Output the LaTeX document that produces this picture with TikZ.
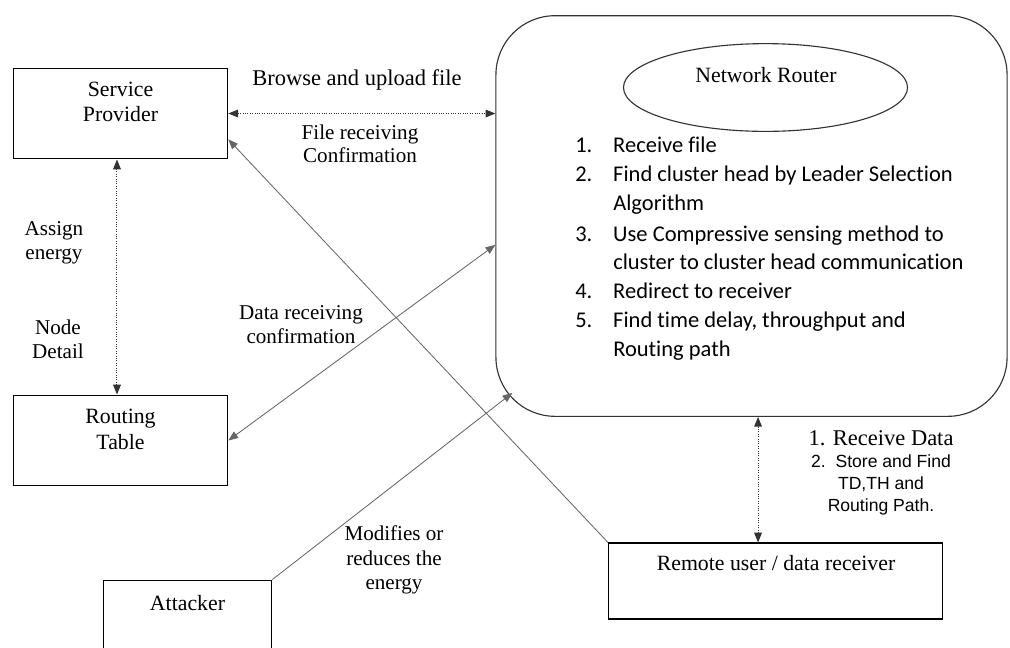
\documentclass[tikz,border=0pt]{standalone}
\usepackage{fontspec}
\setmainfont{Liberation Serif}
\newfontfamily\calibrifont[Ligatures=NoCommon]{Carlito}
\newfontfamily\arialfont{Liberation Sans}
\usetikzlibrary{positioning,arrows.meta,shapes.geometric}

\begin{document}
\begin{tikzpicture}[x=0.025cm, y=-0.025cm,
	box/.style={draw, line width=0.9pt, inner sep=0pt},
	boxtext/.style={align=center, font=\fontsize{15.5}{18}\selectfont},
	lbl/.style={align=center, font=\fontsize{15}{16.5}\selectfont},
	tip/.style={-{Triangle[length=7pt,width=5.5pt]}},
	bothtips/.style={{Triangle[length=7pt,width=5.5pt]}-{Triangle[length=7pt,width=5.5pt]}},
	dotlink/.style={draw=black!80, densely dotted, line width=0.7pt},
	solidlink/.style={draw=black!60, line width=0.6pt}]
	
	\clip (0,0) rectangle (1010,647);
	
	% Boxes
	\node[box, minimum width=152.4pt, minimum height=64.5pt] (provider) at (120.5,113.5) {};
	\node[boxtext] (providertxt) at (120.5,102) {Service\\Provider};
	
	\node[box, minimum width=152.4pt, minimum height=64.5pt] (routing) at (120.5,440.5) {};
	\node[boxtext] (routingtxt) at (120.5,429.5) {Routing\\Table};
	
	\node[box, minimum width=119.8pt, minimum height=70.9pt] (attacker) at (187.5,630) {};
	\node[boxtext] (attackertxt) at (187.5,603) {Attacker};
	
	\node[box, minimum width=237.4pt, minimum height=53.9pt] (remote) at (775.5,581) {};
	\node[boxtext] (remotetxt) at (776,563) {Remote user / data receiver};
	
	% Network router
	\node[draw=black!80, line width=0.8pt, rounded corners=42pt, minimum width=363.5pt, minimum height=284.9pt, inner sep=0pt] (router) at (751.5,216) {};
	\node[draw=black!80, line width=0.8pt, ellipse, minimum width=202pt, minimum height=62.4pt, inner sep=0pt] (routerhead) at (765.5,87.5) {};
	\node[boxtext] (routertxt) at (766,75) {Network Router};
	\node[anchor=north west, inner sep=0pt, font=\calibrifont\fontsize{16}{20.5}\selectfont] (steps) at (575,132) {%
		\begin{tabular}{@{}p{27pt}@{}l@{}}
			1. & Receive file\\
			2. & Find cluster head by Leader Selection\\
			   & Algorithm\\[1.5pt]
			3. & Use Compressive sensing method to\\
			   & cluster to cluster head communication\\
			4. & Redirect to receiver\\
			5. & Find time delay, throughput and\\
			   & Routing path
		\end{tabular}};
	
	% Connectors
	\draw[dotlink, bothtips] (provider.east) -- (provider.east -| router.west);
	\node[lbl, font=\fontsize{16}{17}\selectfont] (browsetxt) at (357,80) {Browse and upload file};
	\node[lbl] (filetxt) at (360,144) {File receiving\\Confirmation};
	
	\draw[dotlink, bothtips] ([xshift=-2.5pt]provider.south) -- ([xshift=-2.5pt]routing.north);
	\node[lbl, font=\fontsize{15}{17}\selectfont] (assigntxt) at (54,243) {Assign\\energy};
	\node[lbl, font=\fontsize{15}{17}\selectfont] (nodetxt) at (58,339) {Node\\Detail};
	
	\draw[solidlink, tip] (remote.north west) -- ([yshift=-18.4pt]provider.east);
	
	\draw[solidlink, bothtips] (routing.east) -- ([yshift=-20.5pt]router.west);
	\node[lbl, font=\fontsize{15}{17.5}\selectfont] (datatxt) at (301,324.5) {Data receiving\\confirmation};
	
	\draw[solidlink, tip] (attacker.north east) -- ([shift={(17,-24)}]router.south west);
	\node[lbl, font=\fontsize{15}{17.5}\selectfont] (attacktxt) at (394,560) {Modifies or\\reduces the\\energy};
	
	\draw[dotlink, bothtips] ([xshift=-12.4pt]remote.north) -- ([xshift=-12.4pt]remote.north |- router.south);
	\node[lbl, font=\fontsize{16}{15.6}\selectfont] (receivetxt) at (881,473) {1. Receive Data\\{\arialfont\fontsize{12.5}{15.6}\selectfont 2.~~Store and Find}\\{\arialfont\fontsize{12.5}{15.6}\selectfont TD,TH and}\\{\arialfont\fontsize{12.5}{15.6}\selectfont Routing Path.}};
\end{tikzpicture}
\end{document}
